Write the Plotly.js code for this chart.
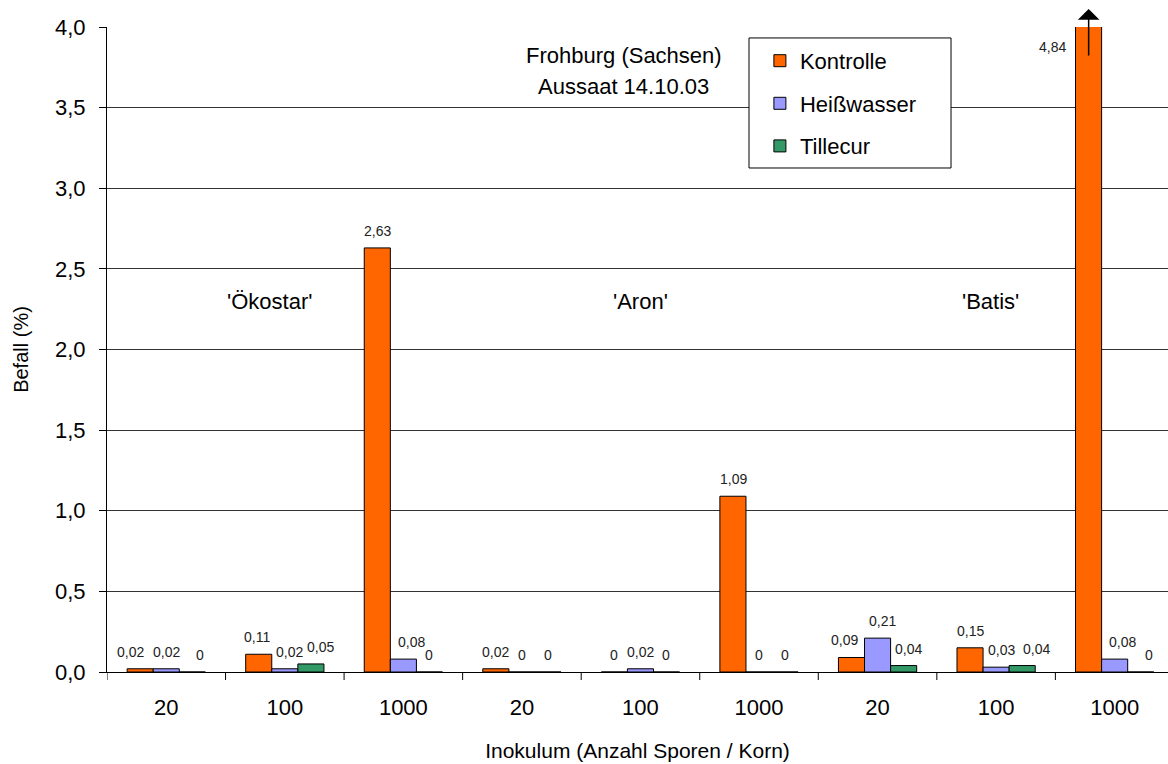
<!DOCTYPE html>
<html>
<head>
<meta charset="utf-8">
<script src="https://cdn.plot.ly/plotly-3.0.1.min.js"></script>
<style>
  html, body { margin: 0; padding: 0; background: #fff; }
  #chart { width: 1168px; height: 764px; }
</style>
</head>
<body>
<div id="chart"></div>
<script>
// Inoculum level of each bar group (spores per grain), three per variety
const inoculum = ['20', '100', '1000', '20', '100', '1000', '20', '100', '1000'];
const varieties = ["'Ökostar'", "'Aron'", "'Batis'"];

// Infestation in percent per treatment
const kontrolle   = [0.02, 0.11, 2.63, 0.02, 0,    1.09, 0.09, 0.15, 4.84];
const heisswasser = [0.02, 0.02, 0.08, 0,    0.02, 0,    0.21, 0.03, 0.08];
const tillecur    = [0,    0.05, 0,    0,    0,    0,    0.04, 0.04, 0];

const seriesNames = ['Kontrolle', 'Heißwasser', 'Tillecur'];
const seriesColors = ['#FF6600', '#9999FF', '#339966'];
const seriesValues = [kontrolle, heisswasser, tillecur];

// Horizontal nudges (px) that keep neighbouring value labels apart
const labelNudge = [
  [-10, -1.5, 0,   0, 0, 0, -7.5, 0,   0],
  [0,    4.5, 8.5, 0, 0, 0,  5,   5.5, 8],
  [7.5,  9.5, 0,   0, 0, 0,  5,   14,  8]
];

const yMax = 4.0;
const FONT = 'Liberation Sans, Arial, sans-serif';
const BAR_PX = 26;   // width of one bar in the group, used to centre its label

const fmt = v => String(v).replace('.', ',');
const idx = inoculum.map((_, i) => i);

const traces = seriesValues.map((vals, k) => ({
  type: 'bar',
  name: seriesNames[k],
  x: idx,
  y: vals,
  marker: { color: seriesColors[k], line: { color: '#000', width: 1 } },
  legendgroup: 'g' + k,
  hoverinfo: 'skip'
}));

const annotations = [];

// Value labels above each bar; a bar beyond the axis maximum gets an arrow instead
seriesValues.forEach((vals, k) => {
  vals.forEach((v, i) => {
    if (v > yMax) return;
    annotations.push({
      x: i, xref: 'x', xshift: (k - 1) * BAR_PX + labelNudge[k][i],
      y: v, yref: 'y', yanchor: 'bottom', yshift: 7,
      text: fmt(v), showarrow: false,
      font: { family: FONT, size: 14, color: '#222' }
    });
  });
});

// Variety names above each group of three inoculum levels
const varietyX = [0.87, 4, 6.95];
varieties.forEach((name, i) => {
  annotations.push({
    x: varietyX[i], y: 2.3, xref: 'x', yref: 'y',
    text: name, showarrow: false,
    font: { family: FONT, size: 22, color: '#000' }
  });
});

// Site and sowing date
annotations.push({
  x: 3.86, y: 3.825, xref: 'x', yref: 'y', text: 'Frohburg (Sachsen)',
  showarrow: false, font: { family: FONT, size: 22, color: '#000' }
});
annotations.push({
  x: 3.86, y: 3.63, xref: 'x', yref: 'y', text: 'Aussaat 14.10.03',
  showarrow: false, font: { family: FONT, size: 22, color: '#000' }
});

// Clipped bar: arrow pointing beyond the axis and its value written beside it
const last = kontrolle.length - 1;
annotations.push({
  x: last, xref: 'x', xshift: -BAR_PX,
  y: 1.028, yref: 'paper',
  ax: 0, ay: 48,
  showarrow: true, arrowhead: 1, arrowsize: 2.4, arrowwidth: 1.5,
  arrowcolor: '#000', standoff: 0, text: ''
});
annotations.push({
  x: last, xref: 'x', xshift: -62,
  y: 3.875, yref: 'y',
  text: fmt(kontrolle[last]), showarrow: false,
  font: { family: FONT, size: 14, color: '#222' }
});

// Tick marks on the boundaries between inoculum groups
const xRange = [-0.5, 8.45];
const shapes = idx.map(i => i - 0.5).map(b => ({
  type: 'line', xref: 'x', x0: b, x1: b,
  yref: 'paper', ysizemode: 'pixel', yanchor: 0, y0: 0, y1: -8,
  line: { color: '#000', width: 1 }
}));

// Framed white panel behind the legend entries
shapes.push({
  type: 'rect', layer: 'above',
  xref: 'paper', yref: 'paper',
  x0: 0.6051, x1: 0.7955, y0: 0.7814, y1: 0.983,
  fillcolor: '#fff', line: { color: '#000', width: 1 }
});

const layout = {
  width: 1168,
  height: 764,
  margin: { l: 107, r: 0, t: 27, b: 92 },
  paper_bgcolor: '#fff',
  plot_bgcolor: '#fff',
  separators: ', ',
  barmode: 'group',
  bargap: 0.34,
  bargroupgap: 0,
  showlegend: true,
  legend: {
    x: 0.605, y: 0.98, xanchor: 'left', yanchor: 'top',
    bgcolor: 'rgba(0,0,0,0)', borderwidth: 0,
    font: { family: FONT, size: 22, color: '#000' },
    traceorder: 'grouped',
    tracegroupgap: 11,
    indentation: 11
  },
  xaxis: {
    range: xRange,
    tickmode: 'array',
    tickvals: idx,
    ticktext: inoculum,
    ticks: '',
    showgrid: false,
    zeroline: false,
    showline: true,
    linecolor: '#000',
    linewidth: 1,
    ticklabelstandoff: 16,
    tickfont: { family: FONT, size: 22, color: '#000' },
    title: {
      text: 'Inokulum (Anzahl Sporen / Korn)',
      font: { family: FONT, size: 21, color: '#000' },
      standoff: 23
    },
    automargin: false
  },
  yaxis: {
    range: [0, yMax],
    dtick: 0.5,
    tick0: 0,
    tickformat: '.1f',
    ticks: 'outside',
    ticklen: 7,
    tickcolor: '#000',
    ticklabelstandoff: 9,
    showline: true,
    linecolor: '#000',
    linewidth: 1,
    showgrid: true,
    gridcolor: '#333',
    gridwidth: 1,
    zeroline: false,
    tickfont: { family: FONT, size: 22, color: '#000' },
    title: {
      text: 'Befall (%)',
      font: { family: FONT, size: 20, color: '#000' },
      standoff: 21
    },
    automargin: false
  },
  shapes: shapes,
  annotations: annotations
};

Plotly.newPlot('chart', traces, layout, { staticPlot: true, displayModeBar: false });
</script>
</body>
</html>
